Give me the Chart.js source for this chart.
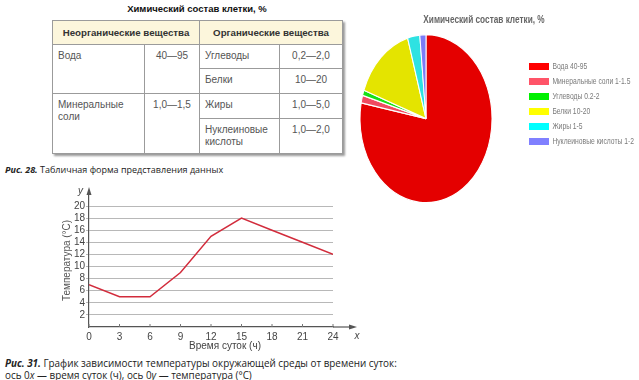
<!DOCTYPE html>
<html>
<head>
<meta charset="utf-8">
<script src="https://cdn.jsdelivr.net/npm/chart.js@4/dist/chart.umd.min.js"></script>
<style>
  html, body { margin:0; padding:0; background:#fff; }
  body { width:639px; height:380px; position:relative; overflow:hidden; font-family:"Liberation Sans", Arial, sans-serif; }
  #tt { position:absolute; left:52px; width:290px; top:3px; text-align:center; font-weight:bold; font-size:9.5px; color:#111; }
  #tbl { position:absolute; left:52px; top:20px; width:290px; border-collapse:collapse; table-layout:fixed; font-size:10px; color:#555; box-shadow:2px 2px 2px #9a9a9a; }
  #tbl td, #tbl th { border:1px solid #9b9b9b; padding:5px 0 0 5px; vertical-align:top; line-height:12px; box-sizing:border-box; }
  #tbl th { background:#fcf6dc; font-weight:bold; color:#333; text-align:center; vertical-align:middle; padding:0; font-size:9.7px; }
  #tbl td.n { text-align:center; padding-left:0; }
  .cap { position:absolute; left:5px; font-family:"Open Sans", sans-serif; font-size:9px; color:#222; white-space:nowrap; }
  .cap.big { font-size:9.9px; }
  .cap b { font-style:italic; }
  canvas { position:absolute; }
</style>
</head>
<body>
<div id="tt"></div>
<table id="tbl"></table>
<div class="cap" style="top:163px"><b>Рис. 28.</b> Табличная форма представления данных</div>
<canvas id="pie" width="319" height="215" style="left:320px;top:0px;width:319px;height:215px"></canvas>
<canvas id="line" width="307" height="170" style="left:55px;top:185px;width:307px;height:170px"></canvas>
<div class="cap big" style="top:356px"><b>Рис. 31.</b> График зависимости температуры окружающей среды от времени суток:</div>
<div class="cap big" style="top:368px">ось 0<i>x</i> — время суток (ч), ось 0<i>y</i> — температура (°C)</div>
<script>
// ---------- table data ----------
const tableTitle = 'Химический состав клетки, %';
const tableHeaders = ['Неорганические вещества', 'Органические вещества'];
const inorganicNames = ['Вода', 'Минеральные<br>соли'];
const inorganicValues = ['40—95', '1,0—1,5'];
const organicNames = ['Углеводы', 'Белки', 'Жиры', 'Нуклеиновые<br>кислоты'];
const organicValues = ['0,2—2,0', '10—20', '1,0—5,0', '1,0—2,0'];

// ---------- pie data ----------
const pieTitle = 'Химический состав клетки, %';
const pieLabels = ['Вода 40-95', 'Минеральные соли 1-1.5', 'Углеводы 0.2-2', 'Белки 10-20', 'Жиры 1-5', 'Нуклеиновые кислоты 1-2'];
const pieValues = [78, 1.5, 1, 15, 3, 1.5];
const pieColors = ['#e40000', '#f04a60', '#16e016', '#e4e400', '#2ee2e2', '#7c7cf8'];
const legendColors = ['#ff0000', '#ff5468', '#00f000', '#ffff00', '#00ffff', '#8080ff'];

// ---------- line data ----------
const hours = [0, 3, 6, 9, 12, 15, 18, 21, 24];
const temps = [7, 5, 5, 9, 15, 18, 16, 14, 12];
const xTitle = 'Время суток (ч)';
const yTitle = 'Температура (°C)';

// build table
document.getElementById('tt').textContent = tableTitle;
const rowH = [24, 25, 25, 35];
let html = '<colgroup><col style="width:92px"><col style="width:55px"><col style="width:80px"><col style="width:63px"></colgroup>';
html += '<tr style="height:24px"><th colspan="2">' + tableHeaders[0] + '</th><th colspan="2">' + tableHeaders[1] + '</th></tr>';
for (let i = 0; i < 4; i++) {
  html += '<tr style="height:' + rowH[i] + 'px">';
  if (i % 2 === 0) {
    const k = i / 2;
    html += '<td rowspan="2">' + inorganicNames[k] + '</td><td rowspan="2" class="n">' + inorganicValues[k] + '</td>';
  }
  html += '<td>' + organicNames[i] + '</td><td class="n">' + organicValues[i] + '</td></tr>';
}
document.getElementById('tbl').innerHTML = html;

// ---------- pie chart ----------
const KY = 84 / 66;      // vertical stretch of the pie (it is drawn as an ellipse)
const KL = 0.75;         // horizontal condensing of legend text
const KT = 0.75;         // horizontal condensing of title text
const squash = {
  id: 'squash',
  beforeDatasetsDraw(chart) {
    const arc = chart.getDatasetMeta(0).data[0];
    const ctx = chart.ctx;
    ctx.save();
    ctx.translate(arc.x, arc.y);
    ctx.scale(1, KY);
    ctx.translate(-arc.x, -arc.y);
  },
  afterDatasetsDraw(chart) { chart.ctx.restore(); }
};
function condense(box, k, originFn) {
  if (!box || box.__condensed) return;
  const orig = box.draw;
  box.draw = function (area) {
    const ctx = this.ctx, ox = originFn(this);
    const r = this.right, w = this.width;
    this.right = ox + (r - ox) / k; this.width = this.right - this.left;
    ctx.save();
    ctx.translate(ox, 0); ctx.scale(k, 1); ctx.translate(-ox, 0);
    orig.call(this, area);
    ctx.restore();
    this.right = r; this.width = w;
  };
  box.__condensed = true;
}
const condenser = {
  id: 'condenser',
  afterUpdate(chart) {
    condense(chart.legend, KL, b => b.left + b.options.labels.padding);
  }
};
const sans = "'Liberation Sans', Arial, sans-serif";
const pieChart = new Chart(document.getElementById('pie'), {
  type: 'pie',
  data: {
    labels: pieLabels,
    datasets: [{ data: pieValues, backgroundColor: pieColors, borderColor: '#ffffff', borderWidth: 1, clip: false }]
  },
  options: {
    responsive: false, animation: false, radius: 66,
    layout: { padding: { left: 9, right: 0, top: 0, bottom: 33.5 } },
    plugins: {
      tooltip: { enabled: false },
      title: { display: true, text: pieTitle, color: '#666', font: { size: 11, weight: 'bold', family: sans }, padding: { top: 13.4, bottom: 29.3 } },
      legend: {
        position: 'right', align: 'start', maxWidth: 116, fullSize: false,
        labels: {
          boxWidth: 20 / KL, boxHeight: 7, padding: 6, color: '#7a7a7a',
          font: { size: 9, family: sans },
          generateLabels() {
            return pieLabels.map((t, i) => ({ text: t, fillStyle: legendColors[i], strokeStyle: legendColors[i], lineWidth: 0, hidden: false, index: i, fontColor: '#7a7a7a' }));
          }
        }
      }
    }
  },
  plugins: [squash, condenser]
});
// condense the title horizontally around its centre
(function () {
  const tb = pieChart.titleBlock;
  const orig = tb.draw;
  tb.draw = function (area) {
    const ctx = this.ctx, ox = (this.left + this.right) / 2;
    ctx.save(); ctx.translate(ox, 0); ctx.scale(KT, 1); ctx.translate(-ox, 0);
    orig.call(this, area);
    ctx.restore();
  };
  pieChart.draw();
})();

// ---------- line chart ----------
const axisDecor = {
  id: 'axisDecor',
  afterDraw(chart) {
    const { ctx, chartArea: a, scales: { x, y } } = chart;
    const yb = y.getPixelForValue(0);
    const x0 = x.getPixelForValue(0);
    ctx.save();
    ctx.strokeStyle = '#555'; ctx.fillStyle = '#555'; ctx.lineWidth = 1.2;
    ctx.beginPath(); ctx.moveTo(a.right, yb); ctx.lineTo(a.right + 19, yb); ctx.stroke();
    ctx.beginPath(); ctx.moveTo(a.right + 24, yb); ctx.lineTo(a.right + 16, yb - 2.5); ctx.lineTo(a.right + 16, yb + 2.5); ctx.closePath(); ctx.fill();
    ctx.beginPath(); ctx.moveTo(x0, a.top); ctx.lineTo(x0, a.top - 3); ctx.stroke();
    ctx.beginPath(); ctx.moveTo(x0, a.top - 7); ctx.lineTo(x0 - 2.5, a.top + 1); ctx.lineTo(x0 + 2.5, a.top + 1); ctx.closePath(); ctx.fill();
    ctx.lineWidth = 1; ctx.strokeStyle = '#777';
    x.ticks.forEach(t => {
      const px = x.getPixelForValue(t.value);
      ctx.beginPath(); ctx.moveTo(px, yb); ctx.lineTo(px, yb - 3); ctx.stroke();
    });
    ctx.fillStyle = '#444';
    ctx.font = 'italic 10px "Liberation Sans", Arial, sans-serif';
    ctx.textAlign = 'center'; ctx.textBaseline = 'middle';
    ctx.fillText('x', a.right + 24, yb + 9);
    ctx.fillText('y', x0 - 8.5, a.top - 3);
    ctx.font = '10px "Liberation Sans", Arial, sans-serif';
    ctx.fillText(xTitle, (a.left + a.right) / 2 + 14, yb + 19);
    ctx.restore();
  }
};
const tickFont = { size: 10, family: sans };
new Chart(document.getElementById('line'), {
  type: 'line',
  data: {
    datasets: [{ data: hours.map((h, i) => ({ x: h, y: temps[i] })), borderColor: '#d22c3c', borderWidth: 1.5, pointRadius: 0, tension: 0, fill: false }]
  },
  options: {
    responsive: false, animation: false,
    layout: { padding: { left: 0, right: 29, top: 8.9, bottom: 0 } },
    plugins: { legend: { display: false }, tooltip: { enabled: false } },
    scales: {
      x: {
        type: 'linear', min: 0, max: 24,
        ticks: { stepSize: 3, color: '#444', font: tickFont, padding: 4, maxRotation: 0, autoSkip: false },
        grid: { display: true, drawOnChartArea: false, drawTicks: false },
        border: { color: '#555', width: 1.2 },
        afterFit(s) { s.height = 28; }
      },
      y: {
        min: 0, max: 22,
        ticks: { stepSize: 2, autoSkip: false, color: '#444', font: tickFont, padding: 1, callback: v => (v === 0 || v === 22) ? '' : String(v) },
        grid: { color: c => (c.tick && (c.tick.value === 0 || c.tick.value === 22)) ? 'rgba(0,0,0,0)' : '#b8b8b8', tickLength: 3, lineWidth: 1 },
        border: { color: '#555', width: 1.2 },
        title: { display: true, text: yTitle, color: '#555', font: { size: 10, family: sans }, padding: { top: 6, bottom: 0 } },
        afterFit(s) { s.width = 34; }
      }
    }
  },
  plugins: [axisDecor]
});
</script>
</body>
</html>
